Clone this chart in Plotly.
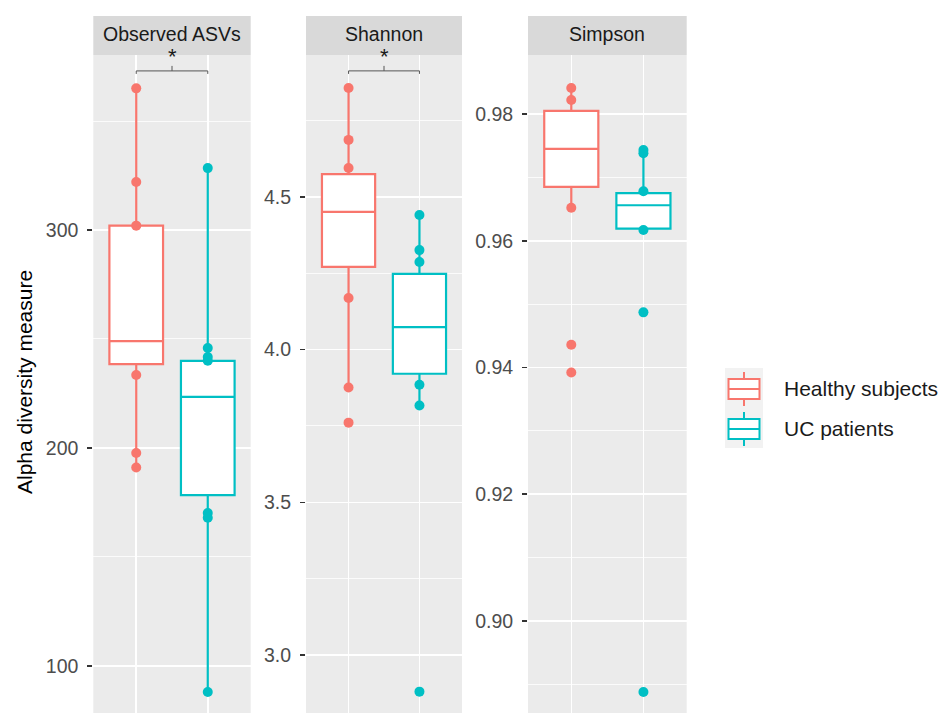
import plotly.graph_objects as go

W, H = 942, 713

metrics = ["Observed ASVs", "Shannon", "Simpson"]
groups = ["Healthy subjects", "UC patients"]
colors = ["#F8766D", "#00BFC4"]

# ---- Observed ASVs ----
obs_healthy_pts = [365, 322, 302, 233.5, 197.7, 191]
obs_uc_pts = [328.4, 245.9, 241.7, 240, 170.2, 168, 88]
obs_q1 = [238.5, 178.4]
obs_median = [249, 223.4]
obs_q3 = [302, 240]
obs_lower = [191, 88]
obs_upper = [365, 328.4]

# ---- Shannon ----
shan_healthy_pts = [4.857, 4.687, 4.595, 4.169, 3.876, 3.761]
shan_uc_pts = [4.441, 4.326, 4.287, 3.885, 3.817, 2.88]
shan_q1 = [4.271, 3.921]
shan_median = [4.451, 4.074]
shan_q3 = [4.575, 4.248]
shan_lower = [3.876, 3.817]
shan_upper = [4.857, 4.441]

# ---- Simpson ----
simp_healthy_pts = [0.9841, 0.9822, 0.9652, 0.9436, 0.9392]
simp_uc_pts = [0.9743, 0.9738, 0.9678, 0.9617, 0.9487, 0.8888]
simp_q1 = [0.9685, 0.9619]
simp_median = [0.9745, 0.9656]
simp_q3 = [0.9805, 0.9675]
simp_lower = [0.9652, 0.9617]
simp_upper = [0.9841, 0.9743]

# significance brackets
sig_y = [373, 4.913, None]
sig_label = ["*", "*", None]

y_ticks_major = [[100, 200, 300], [3.0, 3.5, 4.0, 4.5], [0.90, 0.92, 0.94, 0.96, 0.98]]
y_tick_text = [["100", "200", "300"], ["3.0", "3.5", "4.0", "4.5"], ["0.90", "0.92", "0.94", "0.96", "0.98"]]

points = [[obs_healthy_pts, obs_uc_pts], [shan_healthy_pts, shan_uc_pts], [simp_healthy_pts, simp_uc_pts]]
stats = [
    (obs_q1, obs_median, obs_q3, obs_lower, obs_upper),
    (shan_q1, shan_median, shan_q3, shan_lower, shan_upper),
    (simp_q1, simp_median, simp_q3, simp_lower, simp_upper),
]

# ---- layout geometry (pixels) ----
panel_x = [(93.3, 250.7), (306.0, 462.0), (528.0, 686.7)]
panel_top, strip_top = 55.0, 16.0
y_ranges = [[78.4, 380.3], [2.810, 4.965], [0.88548, 0.98931]]
y_minor = [50, 0.25, 0.01]


def px(x):
    return x / W


def py(y):
    return 1 - y / H


FONT = "Liberation Sans, Arial, sans-serif"
fig = go.Figure()

# points first (boxes drawn on top, as in ggplot)
for i in range(3):
    xa = "x" if i == 0 else f"x{i+1}"
    ya = "y" if i == 0 else f"y{i+1}"
    for g in range(2):
        pts = points[i][g]
        fig.add_trace(go.Scatter(
            x=[g] * len(pts), y=pts, mode="markers", xaxis=xa, yaxis=ya,
            marker=dict(color=colors[g], size=10, line=dict(width=0)),
            showlegend=False, hoverinfo="y"))

for i in range(3):
    xa = "x" if i == 0 else f"x{i+1}"
    ya = "y" if i == 0 else f"y{i+1}"
    q1, med, q3, lo, up = stats[i]
    for g in range(2):
        fig.add_trace(go.Box(
            x=[g], q1=[q1[g]], median=[med[g]], q3=[q3[g]],
            lowerfence=[lo[g]], upperfence=[up[g]],
            width=0.75, whiskerwidth=0, boxpoints=False,
            fillcolor="white", line=dict(color=colors[g], width=2.2),
            xaxis=xa, yaxis=ya, name=groups[g], showlegend=False))

shapes = []
annotations = []
for i in range(3):
    sfx = "" if i == 0 else str(i + 1)
    x0, x1 = panel_x[i]
    fig.layout["xaxis" + sfx] = dict(
        domain=[px(x0), px(x1)], range=[-0.6, 1.6], tickvals=[0, 1],
        showticklabels=False, ticks="", showgrid=True, gridcolor="white",
        gridwidth=1.5, zeroline=False, showline=False, anchor="y" + sfx,
        fixedrange=True)
    fig.layout["yaxis" + sfx] = dict(
        domain=[0, py(panel_top)], range=y_ranges[i],
        tickvals=y_ticks_major[i], ticktext=y_tick_text[i],
        ticks="outside", ticklen=5, tickwidth=1.5, tickcolor="#333333",
        ticklabelstandoff=5,
        tickfont=dict(family=FONT, size=19.5, color="#4D4D4D"),
        showgrid=True, gridcolor="white", gridwidth=1.5,
        minor=dict(dtick=y_minor[i], tick0=0, showgrid=True, gridcolor="white",
                   gridwidth=0.8, ticks=""),
        zeroline=False, showline=False, anchor="x" + sfx, fixedrange=True)
    # strip
    shapes.append(dict(type="rect", xref="paper", yref="paper",
                       x0=px(x0), x1=px(x1), y0=py(panel_top), y1=py(strip_top),
                       fillcolor="#D9D9D9", line=dict(width=0), layer="below"))
    annotations.append(dict(text=metrics[i], xref="paper", yref="paper",
                            x=px((x0 + x1) / 2), y=py((panel_top + strip_top) / 2 - 1),
                            showarrow=False, xanchor="center", yanchor="middle",
                            font=dict(family=FONT, size=19.5, color="#1A1A1A")))
    # significance bracket
    if sig_y[i] is not None:
        xr, yr = "x" + sfx, "y" + sfx
        lc = dict(color="#555555", width=1)
        shapes.append(dict(type="line", xref=xr, yref=yr, x0=0, x1=1,
                           y0=sig_y[i], y1=sig_y[i], line=lc))
        for xe in (0, 1):
            shapes.append(dict(type="line", xref=xr, yref=yr, ysizemode="pixel",
                               yanchor=sig_y[i], x0=xe, x1=xe, y0=0, y1=-3, line=lc))
        shapes.append(dict(type="line", xref=xr, yref=yr, ysizemode="pixel",
                           yanchor=sig_y[i], x0=0.5, x1=0.5, y0=0, y1=5, line=lc))
        annotations.append(dict(text=sig_label[i], xref=xr, yref=yr, x=0.5,
                                y=sig_y[i], showarrow=False, xanchor="center",
                                yanchor="bottom", yshift=1, borderpad=0,
                                font=dict(family=FONT, size=22, color="#1A1A1A")))

# y-axis title
annotations.append(dict(text="Alpha diversity measure", xref="paper", yref="paper",
                        x=px(24), y=py(382), textangle=-90, showarrow=False,
                        xanchor="center", yanchor="middle",
                        font=dict(family=FONT, size=21, color="#000000")))

# legend (ggplot style keys)
kx0, kx1 = 725, 763
key_tops = [368, 408]
for g in range(2):
    t = key_tops[g]
    shapes.append(dict(type="rect", xref="paper", yref="paper",
                       x0=px(kx0), x1=px(kx1), y0=py(t + 40), y1=py(t),
                       fillcolor="#F2F2F2", line=dict(width=0)))
    lc = dict(color=colors[g], width=2)
    xm = (kx0 + kx1) / 2
    shapes.append(dict(type="line", xref="paper", yref="paper", x0=px(xm), x1=px(xm),
                       y0=py(t + 4), y1=py(t + 11), line=lc))
    shapes.append(dict(type="line", xref="paper", yref="paper", x0=px(xm), x1=px(xm),
                       y0=py(t + 31), y1=py(t + 38), line=lc))
    shapes.append(dict(type="rect", xref="paper", yref="paper",
                       x0=px(kx0 + 3.5), x1=px(kx1 - 3.5), y0=py(t + 31), y1=py(t + 11),
                       fillcolor="white", line=lc))
    shapes.append(dict(type="line", xref="paper", yref="paper", x0=px(kx0 + 3.5),
                       x1=px(kx1 - 3.5), y0=py(t + 21), y1=py(t + 21), line=lc))
    annotations.append(dict(text=groups[g], xref="paper", yref="paper", x=px(782),
                            y=py(t + 20), showarrow=False, xanchor="left",
                            yanchor="middle",
                            font=dict(family=FONT, size=21, color="#1A1A1A")))

fig.update_layout(
    width=W, height=H, margin=dict(l=0, r=0, t=0, b=0),
    paper_bgcolor="white", plot_bgcolor="#EBEBEB",
    boxmode="overlay", showlegend=False,
    shapes=shapes, annotations=annotations,
)

fig.write_html("out.html", config={"displayModeBar": False, "staticPlot": True},
               post_script="document.body.style.margin='0px';document.body.style.overflow='hidden';")
